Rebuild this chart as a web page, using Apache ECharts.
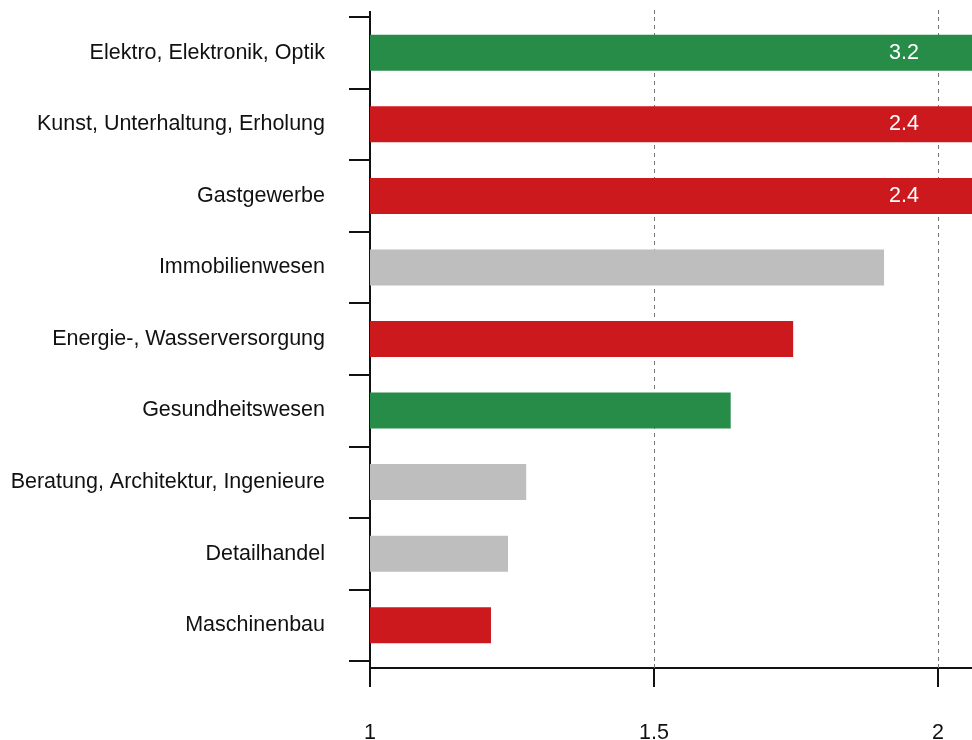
<!DOCTYPE html>
<html>
<head>
<meta charset="utf-8">
<script src="https://cdn.jsdelivr.net/npm/echarts@6/dist/echarts.min.js"></script>
<style>
html,body{margin:0;padding:0;background:#fff;overflow:hidden;}
#chart{width:972px;height:740px;}
</style>
</head>
<body>
<div id="chart"></div>
<script>
const categories = [
  'Elektro, Elektronik, Optik',
  'Kunst, Unterhaltung, Erholung',
  'Gastgewerbe',
  'Immobilienwesen',
  'Energie-, Wasserversorgung',
  'Gesundheitswesen',
  'Beratung, Architektur, Ingenieure',
  'Detailhandel',
  'Maschinenbau'
];
const values = [3.2, 2.4, 2.4, 1.905, 1.745, 1.635, 1.275, 1.243, 1.213];
const groups = ['green', 'red', 'red', 'gray', 'red', 'green', 'gray', 'gray', 'red'];
const xTicks = [1, 1.5, 2];
const xMin = 1, xMax = 2.0616, xStep = 0.5;

const palette = { green: '#268C48', red: '#CB191E', gray: '#BEBEBE' };
const FONT = '"Liberation Sans", Arial, sans-serif';
const AXIS_COLOR = '#111';
const GRID_LINE = { color: '#777', width: 1, type: [4, 4] };

const data = values.map((v, i) => ({
  value: v,
  itemStyle: { color: palette[groups[i]] },
  label: { show: v > xMax }
}));

// helper axes that extend the axis line / dashed grid lines a few pixels past the plot
function extAxis(position, offset, len, vals, lineStyle) {
  return {
    type: 'value', position: position, offset: offset,
    min: xMin, max: xMax, interval: xStep,
    axisLine: { show: false },
    axisLabel: { show: false },
    splitLine: { show: false },
    axisTick: { show: true, inside: true, length: len, customValues: vals, lineStyle: lineStyle }
  };
}

const chart = echarts.init(document.getElementById('chart'), null, { renderer: 'canvas', width: 972, height: 740 });
chart.setOption({
  animation: false,
  backgroundColor: '#fff',
  grid: { left: 370, width: 603, top: 17, bottom: 79, containLabel: false, outerBoundsMode: 'none' },
  xAxis: [{
    type: 'value',
    position: 'bottom',
    min: xMin, max: xMax, interval: xStep,
    offset: 7,
    axisLine: { show: true, lineStyle: { color: AXIS_COLOR, width: 2 } },
    axisTick: { show: true, length: 19, lineStyle: { color: AXIS_COLOR, width: 2 } },
    axisLabel: {
      margin: 54, fontSize: 21.5, color: '#111', fontFamily: FONT,
      showMaxLabel: false,
      formatter: v => (xTicks.indexOf(v) >= 0 ? String(v) : '')
    },
    splitLine: { show: true, lineStyle: GRID_LINE }
  },
  extAxis('bottom', 7, 7, [xTicks[0]], { color: AXIS_COLOR, width: 2 }),
  extAxis('bottom', 7, 7, xTicks.slice(1), GRID_LINE),
  extAxis('top', 6, 6, [xTicks[0]], { color: AXIS_COLOR, width: 2 }),
  extAxis('top', 7, 7, xTicks.slice(1), GRID_LINE)
  ],
  yAxis: {
    type: 'category',
    data: categories,
    inverse: true,
    axisLine: { show: true, lineStyle: { color: AXIS_COLOR, width: 2 } },
    axisTick: { show: true, length: 21, lineStyle: { color: AXIS_COLOR, width: 2 } },
    axisLabel: { margin: 45, fontSize: 21.5, color: '#111', fontFamily: FONT },
    splitLine: { show: false }
  },
  series: [{
    type: 'bar',
    xAxisIndex: 0,
    data: data,
    barWidth: 36,
    clip: true,
    label: {
      position: 'insideRight',
      distance: 54,
      color: '#fff',
      fontSize: 21.5,
      fontFamily: FONT,
      formatter: p => p.value.toFixed(1)
    }
  }]
});
</script>
</body>
</html>
